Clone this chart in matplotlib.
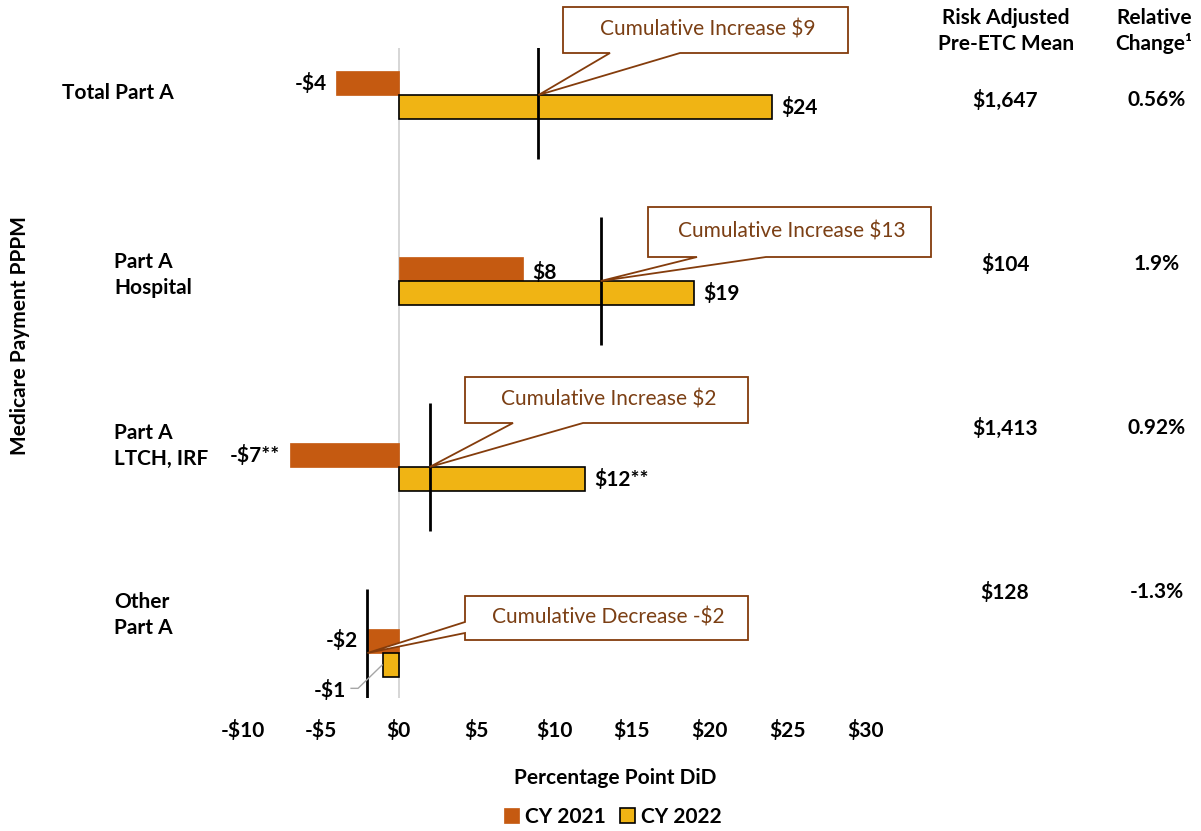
import matplotlib
matplotlib.use("Agg")
import matplotlib.pyplot as plt
from matplotlib.patches import Polygon
from matplotlib.transforms import IdentityTransform
import numpy as np

# ---- data -------------------------------------------------------------
categories = ["Total Part A", "Part A\nHospital", "Part A\nLTCH, IRF", "Other\nPart A"]
cy2021 = [-4, 8, -7, -2]
cy2022 = [24, 19, 12, -1]
sig2021 = ["", "", "**", ""]
sig2022 = ["", "", "**", ""]
cumulative = [9, 13, 2, -2]
pre_etc_mean = ["$1,647", "$104", "$1,413", "$128"]
relative_change = ["0.56%", "1.9%", "0.92%", "-1.3%"]
x_ticks = [-10, -5, 0, 5, 10, 15, 20, 25, 30]
series_names = ["CY 2021", "CY 2022"]

# ---- style --------------------------------------------------------------
W, H = 1201, 831
DPI = 100
FONT = "Lato"
FS = 15
ORANGE = "#C55A11"
YELLOW = "#F0B414"
BROWN_EDGE = "#843C0C"
BROWN_TEXT = "#7B3F14"
plt.rcParams["font.family"] = [FONT, "DejaVu Sans"]

fig = plt.figure(figsize=(W / DPI, H / DPI), dpi=DPI)


def fpx(x, y):
    """pixel position (top-left origin) -> figure fraction"""
    return x / W, 1 - y / H


# plot area: x from -10 to 30, four groups 186 px apart
ax_left, ax_right, ax_top, ax_bottom = 243, 865, 48, 698
ax = fig.add_axes([ax_left / W, 1 - ax_bottom / H,
                   (ax_right - ax_left) / W, (ax_bottom - ax_top) / H])
ax.set_xlim(-10, 30)
ax.set_ylim(-0.242, 3.253)

ypos = np.arange(len(categories))[::-1].astype(float)
bh = 0.129

b1 = ax.barh(ypos + bh / 2, cy2021, height=bh, color=ORANGE, edgecolor=ORANGE,
             linewidth=0.5, zorder=3, label=series_names[0])
b2 = ax.barh(ypos - bh / 2, cy2022, height=bh, color=YELLOW, edgecolor="black",
             linewidth=1.2, zorder=3, label=series_names[1])

# zero line
ax.axvline(0, color="#D0D0D0", lw=1.2, zorder=1)

# cumulative effect markers
for y, c in zip(ypos, cumulative):
    ax.plot([c, c], [y - 0.345, y + 0.345], color="black", lw=2.0, zorder=5,
            solid_capstyle="butt")

for s in ax.spines.values():
    s.set_visible(False)
ax.set_yticks([])
ax.set_xticks(x_ticks)
ax.set_xticklabels([f"-${abs(t)}" if t < 0 else f"${t}" for t in x_ticks],
                   fontsize=FS, fontweight="bold")
ax.tick_params(axis="x", length=0, pad=16)


def money(v, stars=""):
    return (f"-${abs(v)}" if v < 0 else f"${v}") + stars


bold = dict(fontsize=FS, fontweight="bold", color="black", zorder=6)
off = 0.6  # data units gap between bar end and label

# value labels
for y, v, s in zip(ypos, cy2021, sig2021):
    if v < 0:
        ax.text(v - off, y + bh / 2, money(v, s), ha="right", va="center", **bold)
    else:
        ax.text(v + off, y + bh / 2 - 0.02, money(v, s), ha="left", va="center", **bold)
for y, v, s in zip(ypos, cy2022, sig2022):
    if v < 0:
        # small bar: label sits below-left with a leader line
        lx, ly = -3.4, y - 0.2
        ax.text(lx, ly, money(v, s), ha="right", va="center", **bold)
        ax.plot([lx + 0.35, lx + 0.8, v - 0.05], [ly + 0.01, ly + 0.01, y - bh / 2],
                color="#A6A6A6", lw=1.0, zorder=6, clip_on=False)
    else:
        ax.text(v + off, y - bh / 2, money(v, s), ha="left", va="center", **bold)

# ---- callouts ---------------------------------------------------------
# box: (left, top, right, bottom) in pixels; pointer side and base positions
callouts = [
    ((563, 7, 848, 53), "bottom", (610, 680)),
    ((648, 207, 931, 257), "bottom", (697, 766)),
    ((465, 377, 748, 423), "bottom", (513, 583)),
    ((465, 596, 748, 640), "left", (622, 633)),
]
fig.canvas.draw()
for (box, side, base), y, c in zip(callouts, ypos, cumulative):
    tip = ax.transData.transform((c, y))
    l, t, r, b = box
    if side == "bottom":
        pts = [(l, t), (r, t), (r, b), (base[1], b), None, (base[0], b), (l, b)]
    else:
        pts = [(l, t), (r, t), (r, b), (l, b), (l, base[1]), None, (l, base[0])]
    verts = [tuple(tip) if p is None else (p[0], H - p[1]) for p in pts]
    poly = Polygon(verts, closed=True, facecolor="white", edgecolor=BROWN_EDGE,
                   linewidth=1.3, transform=IdentityTransform(), zorder=10)
    fig.add_artist(poly)
    word = "Increase" if c >= 0 else "Decrease"
    fig.text(*fpx((l + r) / 2 + 2, (t + b) / 2), f"Cumulative {word} {money(c)}",
             ha="center", va="center", fontsize=FS, color=BROWN_TEXT, zorder=11)

# ---- category labels -----------------------------------------------------
cat_pos = [(62, 93), (114, 275), (114, 446), (114, 615)]
for (x, y), name in zip(cat_pos, categories):
    fig.text(*fpx(x, y), name, ha="left", va="center", fontsize=FS,
             fontweight="bold", linespacing=1.35)

fig.text(*fpx(20, 336), "Medicare Payment PPPM", rotation=90, ha="center",
         va="center", fontsize=FS, fontweight="bold")

# ---- right-hand table ------------------------------------------------------
fig.text(*fpx(1006, 31), "Risk Adjusted\nPre-ETC Mean", ha="center", va="center",
         fontsize=FS, fontweight="bold", linespacing=1.35)
fig.text(*fpx(1154, 31), "Relative\nChange\u00b9", ha="center", va="center",
         fontsize=FS, fontweight="bold", linespacing=1.35)
row_y = [100, 264, 428, 592]
for ry, m, rc in zip(row_y, pre_etc_mean, relative_change):
    fig.text(*fpx(1005, ry), m, ha="center", va="center", fontsize=FS, fontweight="bold")
    fig.text(*fpx(1157, ry), rc, ha="center", va="center", fontsize=FS, fontweight="bold")

# ---- axis title and legend -------------------------------------------------
fig.text(*fpx(615, 778), "Percentage Point DiD", ha="center", va="center",
         fontsize=FS, fontweight="bold")
fig.legend(handles=[b1, b2], labels=series_names, loc="center",
           bbox_to_anchor=fpx(613, 817), ncol=2, frameon=False,
           prop=dict(family=FONT, size=FS, weight="bold"),
           handlelength=0.7, handleheight=0.7, handletextpad=0.3,
           columnspacing=0.7)

fig.savefig("out.png", dpi=DPI)
